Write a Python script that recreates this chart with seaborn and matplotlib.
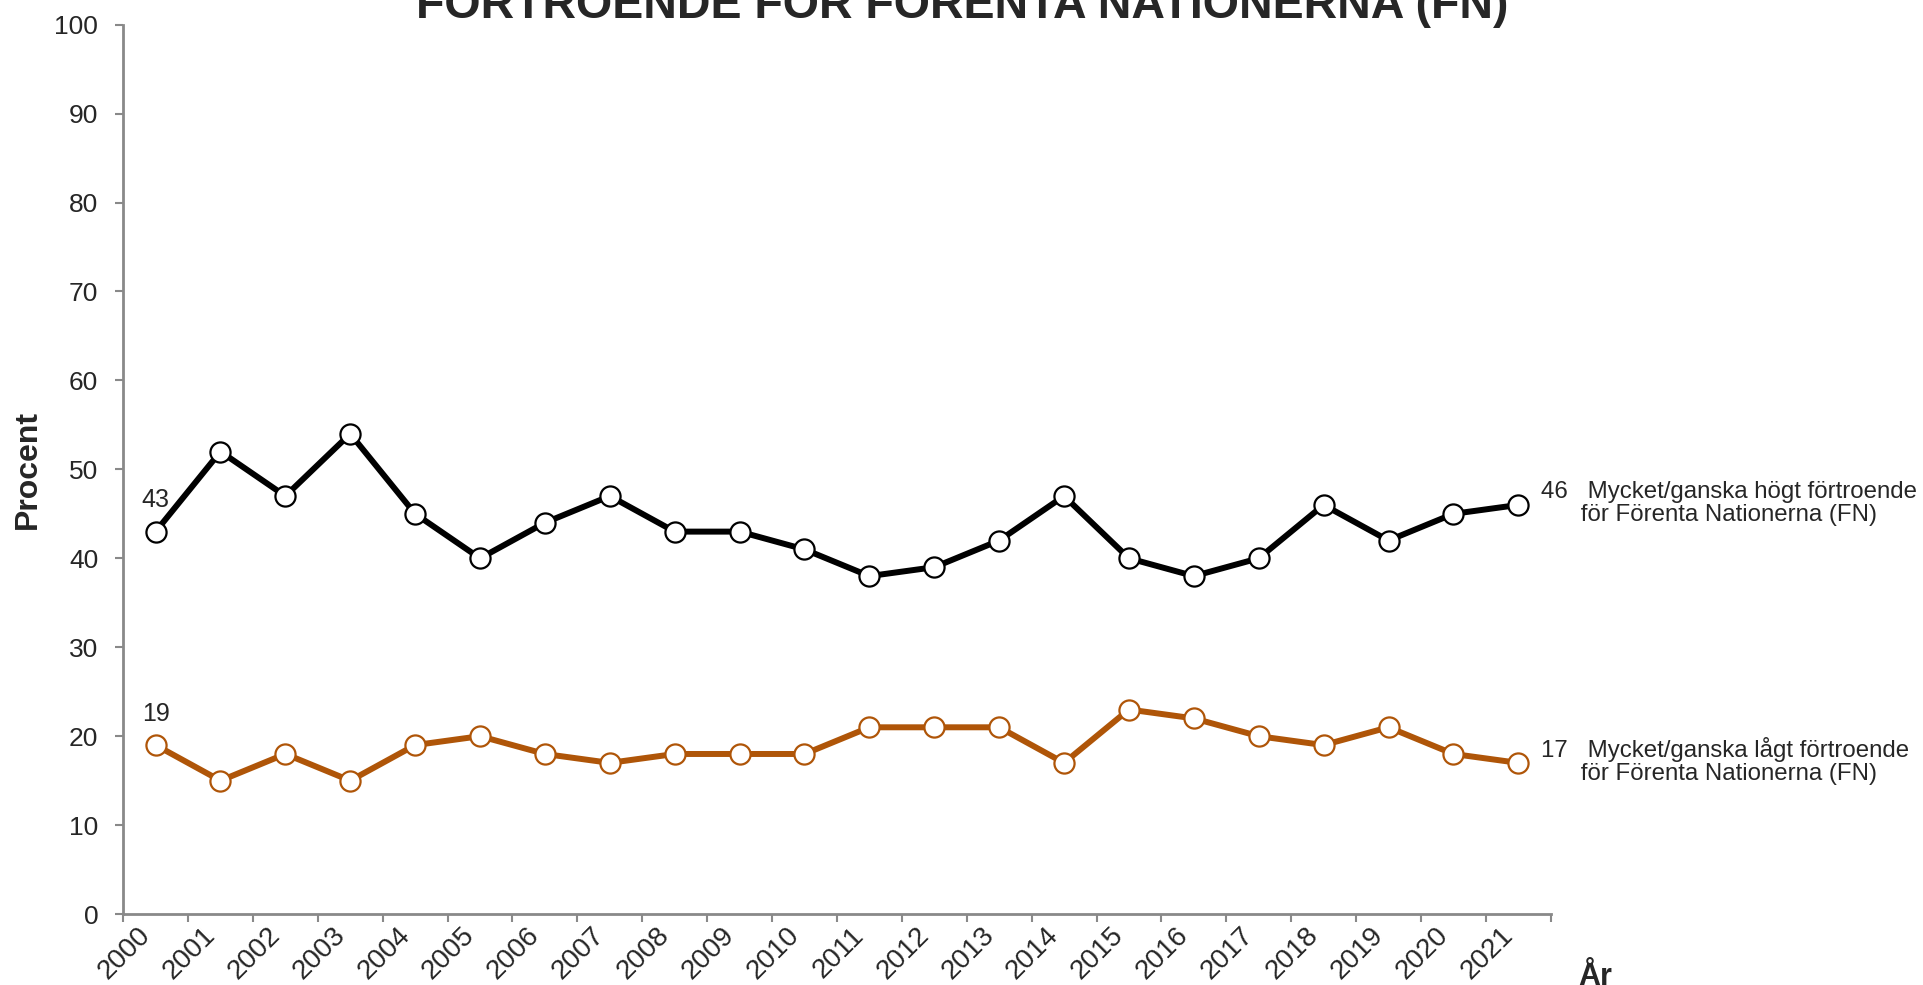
import pandas as pd
import matplotlib
matplotlib.use('Agg')
import matplotlib.pyplot as plt
import seaborn as sns

sns.set_style('white')
plt.rcParams['font.family'] = ['Liberation Sans', 'DejaVu Sans']

# data
years = ['2000', '2001', '2002', '2003', '2004', '2005', '2006', '2007', '2008', '2009', '2010',
         '2011', '2012', '2013', '2014', '2015', '2016', '2017', '2018', '2019', '2020', '2021']
hogt = [43, 52, 47, 54, 45, 40, 44, 47, 43, 43, 41, 38, 39, 42, 47, 40, 38, 40, 46, 42, 45, 46]
lagt = [19, 15, 18, 15, 19, 20, 18, 17, 18, 18, 18, 21, 21, 21, 17, 23, 22, 20, 19, 21, 18, 17]
label_hogt = 'Mycket/ganska högt förtroende\nför Förenta Nationerna (FN)'
label_lagt = 'Mycket/ganska lågt förtroende\nför Förenta Nationerna (FN)'

df = pd.DataFrame({'år': years, 'högt': hogt, 'lågt': lagt})

fig = plt.figure(figsize=(19.24, 9.85), dpi=100)
ax = fig.add_axes([0.064, 0.072, 0.742, 0.903])

svart = '#000000'
orange = '#AF5508'
for col, farg in [('högt', svart), ('lågt', orange)]:
    sns.lineplot(data=df, x='år', y=col, ax=ax, color=farg, linewidth=4.3, sort=False,
                 marker='o', markersize=14.5, markerfacecolor='white',
                 markeredgecolor=farg, markeredgewidth=1.6)

ax.set_xlim(-0.5, len(years) - 0.5)
ax.set_ylim(0, 100)
ax.set_yticks(range(0, 101, 10))
ax.tick_params(axis='y', labelsize=19, length=6, width=1.5, color='#898989',
               direction='out', left=True, pad=12)

# ticks between categories, labels at the centres
ax.set_xticks([i - 0.5 for i in range(len(years) + 1)])
ax.set_xticklabels([])
ax.set_xticks(range(len(years)), minor=True)
ax.set_xticklabels(years, minor=True, rotation=45, ha='right', va='top', fontsize=20)
ax.tick_params(axis='x', which='major', length=6, width=1.5, color='#898989', direction='out', bottom=True)
ax.tick_params(axis='x', which='minor', length=0, pad=6)

for s in ['top', 'right']:
    ax.spines[s].set_visible(False)
for s in ['left', 'bottom']:
    ax.spines[s].set_color('#898989')
    ax.spines[s].set_linewidth(2)

ax.set_xlabel('')
ax.set_ylabel('Procent', fontsize=23, fontweight='bold', labelpad=8)
ax.grid(False)

# värden vid första och sista året
ax.text(0, hogt[0] + 2.2, str(hogt[0]), fontsize=18, ha='center', va='bottom')
ax.text(0, lagt[0] + 2.2, str(lagt[0]), fontsize=18, ha='center', va='bottom')
n = len(years) - 1
ax.text(n + 0.35, hogt[-1] + 0.2, f'{hogt[-1]}   ' + label_hogt.replace('\n', '\n      '),
        fontsize=17.3, ha='left', va='center', linespacing=1.05, clip_on=False)
ax.text(n + 0.35, lagt[-1] + 0.2, f'{lagt[-1]}   ' + label_lagt.replace('\n', '\n      '),
        fontsize=17.3, ha='left', va='center', linespacing=1.05, clip_on=False)

fig.text(0.5, 0.982, 'FÖRTROENDE FÖR FÖRENTA NATIONERNA (FN)', fontsize=33.5, fontweight='bold',
         ha='center', va='baseline')
fig.text(0.829, 0.0, 'År', fontsize=22, fontweight='bold', ha='center', va='baseline')

fig.savefig('out.png', dpi=100)
